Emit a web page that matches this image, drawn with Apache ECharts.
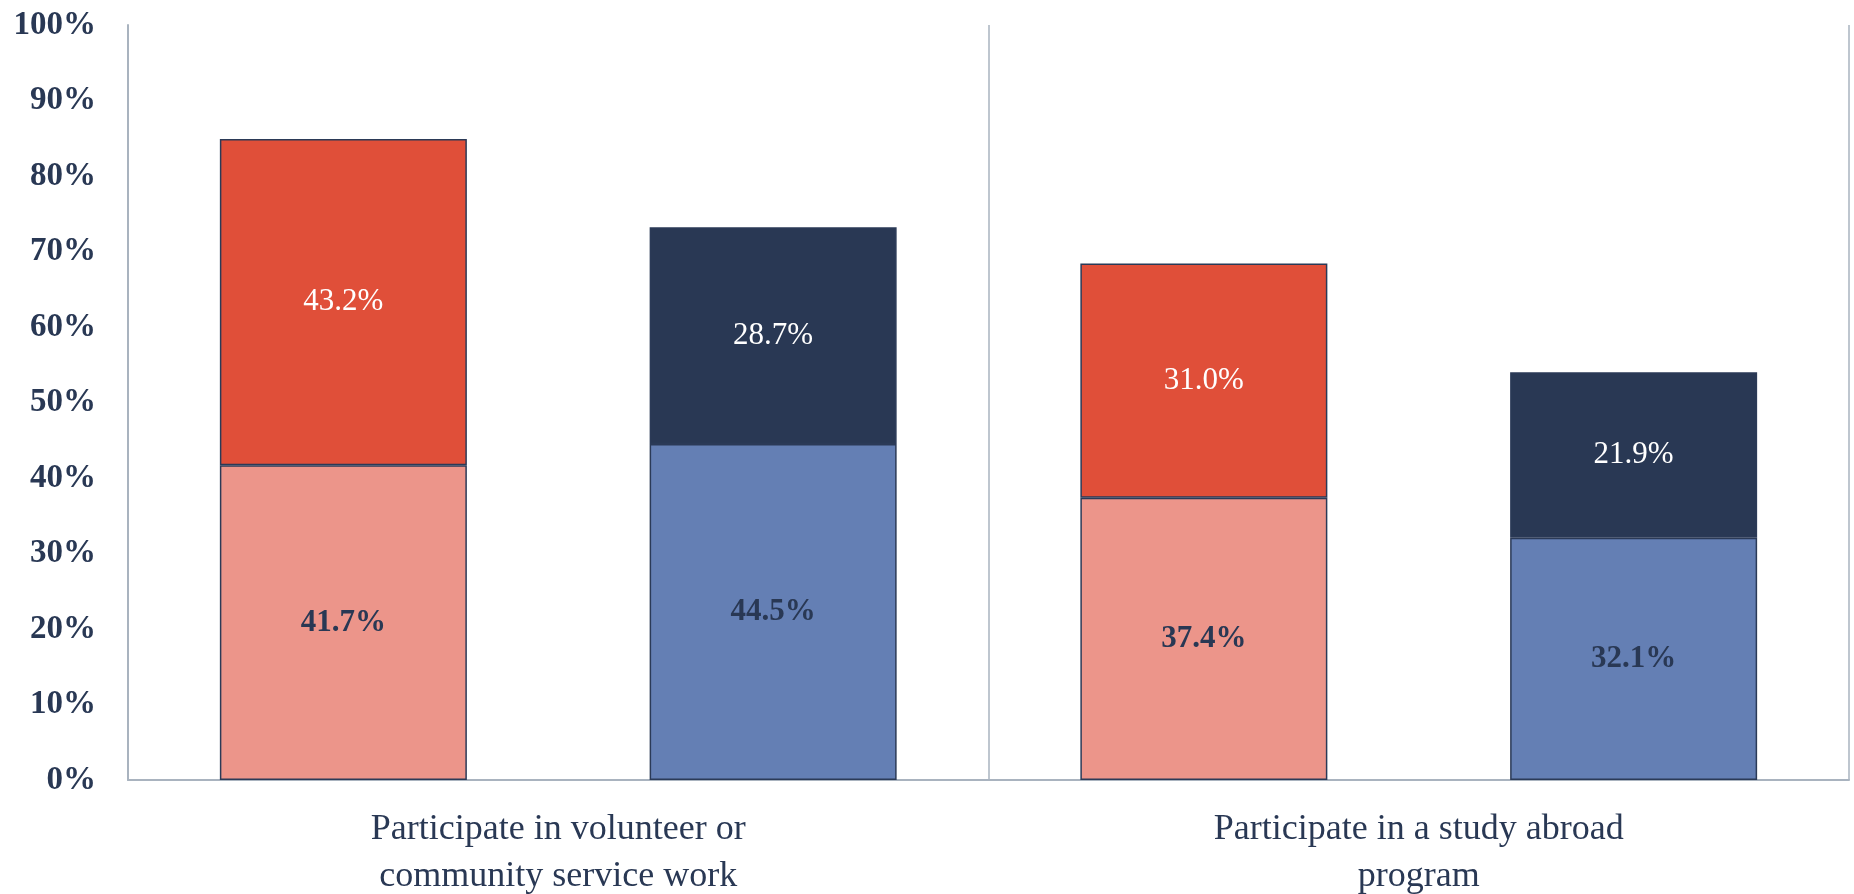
<!DOCTYPE html>
<html><head><meta charset="utf-8">
<script src="https://cdn.jsdelivr.net/npm/echarts@6/dist/echarts.min.js"></script>
<style>html,body{margin:0;padding:0;background:#fff}#c{width:1854px;height:894px}</style>
</head><body><div id="c"></div>
<script>
const categories = ['Participate in volunteer or\ncommunity service work', 'Participate in a study abroad\nprogram'];
const groupABottom = [41.7, 37.4];
const groupATop = [43.2, 31.0];
const groupBBottom = [44.5, 32.1];
const groupBTop = [28.7, 21.9];
const yTicks = [0, 10, 20, 30, 40, 50, 60, 70, 80, 90, 100];

const serif = "'Liberation Serif', 'DejaVu Serif', serif";
const navy = '#293854';
const border = { borderColor: '#2B3A57', borderWidth: 1.5 };

function mk(name, data, stack, color, labelColor, weight) {
  return {
    name, type: 'bar', stack, data,
    barWidth: 247, barGap: '74%',
    itemStyle: Object.assign({ color }, border),
    label: {
      show: true, position: 'inside',
      formatter: p => p.value.toFixed(1) + '%',
      color: labelColor, fontFamily: serif, fontSize: 31, fontWeight: weight
    }
  };
}

const chart = echarts.init(document.getElementById('c'));
chart.setOption({
  animation: false,
  grid: { left: 128, right: 5, top: 25, bottom: 114, containLabel: false, outerBoundsMode: 'none' },
  xAxis: {
    type: 'category', data: categories, boundaryGap: true,
    axisLine: { show: true, lineStyle: { color: '#A9B3BF', width: 2 } },
    axisTick: { show: false },
    splitLine: { show: true, lineStyle: { color: '#A9B3BF', width: 1.5 } },
    axisLabel: { color: navy, fontFamily: serif, fontSize: 36, lineHeight: 47, margin: 26 }
  },
  yAxis: {
    type: 'value', min: 0, max: 100, interval: 10,
    axisLine: { show: true, lineStyle: { color: '#A9B3BF', width: 2 } },
    axisTick: { show: false },
    splitLine: { show: false },
    axisLabel: {
      color: navy, fontFamily: serif, fontSize: 33, fontWeight: 'bold', margin: 32,
      formatter: v => yTicks.includes(v) ? v + '%' : ''
    }
  },
  series: [
    mk('A bottom', groupABottom, 'a', '#EC958A', navy, 'bold'),
    mk('A top', groupATop, 'a', '#E04F39', '#ffffff', 'normal'),
    mk('B bottom', groupBBottom, 'b', '#647FB4', navy, 'bold'),
    mk('B top', groupBTop, 'b', '#293854', '#ffffff', 'normal')
  ]
});
</script></body></html>
